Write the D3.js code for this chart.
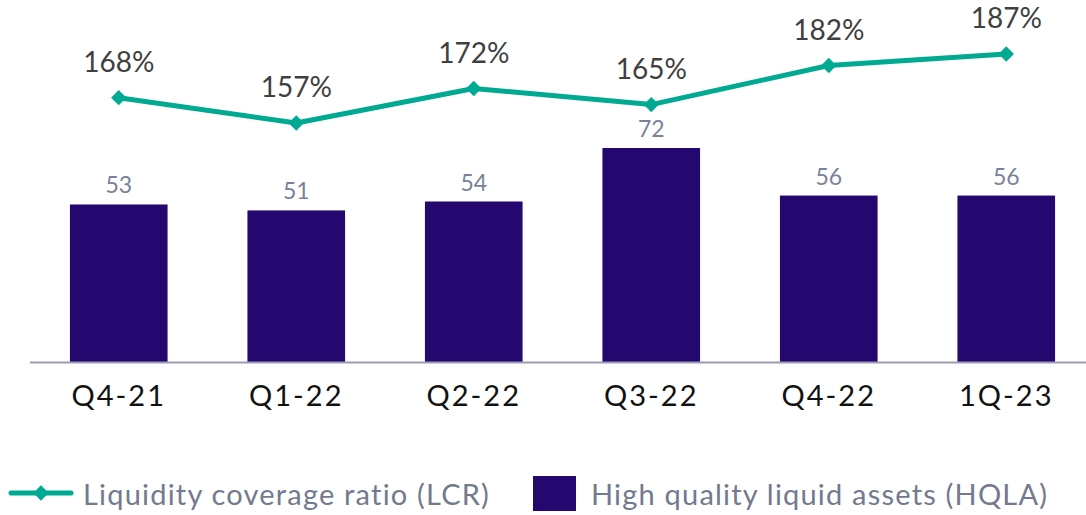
<!DOCTYPE html>
<html>
<head>
<meta charset="utf-8">
<script src="https://cdn.jsdelivr.net/npm/d3@7"></script>
<style>
  html, body { margin: 0; padding: 0; background: #fff; }
  svg { display: block; }
</style>
</head>
<body>
<svg id="chart" width="1086" height="515"></svg>
<script>
// Quarterly liquidity figures
const quarters = ["Q4-21", "Q1-22", "Q2-22", "Q3-22", "Q4-22", "1Q-23"];
const hqla = [53, 51, 54, 72, 56, 56];          // high quality liquid assets
const lcr = [168, 157, 172, 165, 182, 187];     // liquidity coverage ratio, %
const legendLabels = ["Liquidity coverage ratio (LCR)", "High quality liquid assets (HQLA)"];

const barColor = "#24086f";
const lineColor = "#00a991";

const svg = d3.select("#chart");

const x = d3.scaleBand()
  .domain(quarters)
  .range([30, 1095])
  .paddingInner(0.45)
  .paddingOuter(0.225);

const baseY = 362;
const yBar = d3.scaleLinear().domain([0, 72]).range([baseY, 148]);
const yLine = d3.scaleLinear().domain([157, 187]).range([123, 54]);

// Bars
svg.append("g").selectAll("rect")
  .data(quarters)
  .join("rect")
  .attr("x", d => x(d))
  .attr("width", x.bandwidth())
  .attr("y", (d, i) => yBar(hqla[i]))
  .attr("height", (d, i) => baseY - yBar(hqla[i]))
  .attr("fill", barColor);

// Bar value labels
svg.append("g").selectAll("text")
  .data(quarters)
  .join("text")
  .attr("x", d => x(d) + x.bandwidth() / 2)
  .attr("y", (d, i) => yBar(hqla[i]) - 11)
  .attr("text-anchor", "middle")
  .attr("font-family", "Lato, 'Open Sans', sans-serif")
  .attr("font-size", 23)
  .attr("fill", "#7a8199")
  .text((d, i) => hqla[i]);

// Category axis
const axis = d3.axisBottom(x).tickSize(0).tickPadding(0);
const gx = svg.append("g").attr("transform", `translate(0,${baseY})`).call(axis);
gx.select(".domain").remove();
gx.selectAll("text")
  .attr("font-family", "Lato, 'Noto Sans', sans-serif")
  .attr("font-size", 29)
  .attr("letter-spacing", 2)
  .attr("fill", "#111")
  .attr("y", 44)
  .attr("dy", null);
svg.append("line")
  .attr("x1", 30).attr("x2", 1086)
  .attr("y1", baseY + 0.5).attr("y2", baseY + 0.5)
  .attr("stroke", "#9c9cb4").attr("stroke-width", 2);

// LCR line
const cx = d => x(d) + x.bandwidth() / 2;
const line = d3.line()
  .x((d, i) => cx(quarters[i]))
  .y(d => yLine(d));
svg.append("path")
  .datum(lcr)
  .attr("d", line)
  .attr("fill", "none")
  .attr("stroke", lineColor)
  .attr("stroke-width", 5)
  .attr("stroke-linejoin", "round");

const diamond = d3.symbol().type(d3.symbolDiamond2).size(150);
svg.append("g").selectAll("path")
  .data(lcr)
  .join("path")
  .attr("d", diamond)
  .attr("transform", (d, i) => `translate(${cx(quarters[i])},${yLine(d)})`)
  .attr("fill", lineColor);

svg.append("g").selectAll("text")
  .data(lcr)
  .join("text")
  .attr("x", (d, i) => cx(quarters[i]))
  .attr("y", d => yLine(d) - 26)
  .attr("text-anchor", "middle")
  .attr("font-family", "Lato, 'Open Sans', sans-serif")
  .attr("font-size", 28)
  .attr("fill", "#404040")
  .text(d => d + "%");

// Legend
const lg = svg.append("g");
lg.append("line")
  .attr("x1", 11).attr("x2", 71).attr("y1", 493).attr("y2", 493)
  .attr("stroke", lineColor).attr("stroke-width", 5).attr("stroke-linecap", "round");
lg.append("path")
  .attr("d", diamond)
  .attr("transform", "translate(41,493)")
  .attr("fill", lineColor);
lg.append("text")
  .attr("x", 83).attr("y", 505)
  .attr("font-family", "Lato, 'Open Sans', sans-serif")
  .attr("font-size", 29)
  .attr("letter-spacing", 1.2)
  .attr("fill", "#737a8f")
  .text(legendLabels[0]);
lg.append("rect")
  .attr("x", 533).attr("y", 476).attr("width", 43).attr("height", 35)
  .attr("fill", barColor);
lg.append("text")
  .attr("x", 591).attr("y", 505)
  .attr("font-family", "Lato, 'Open Sans', sans-serif")
  .attr("font-size", 29)
  .attr("letter-spacing", 1.2)
  .attr("fill", "#737a8f")
  .text(legendLabels[1]);
</script>
</body>
</html>
